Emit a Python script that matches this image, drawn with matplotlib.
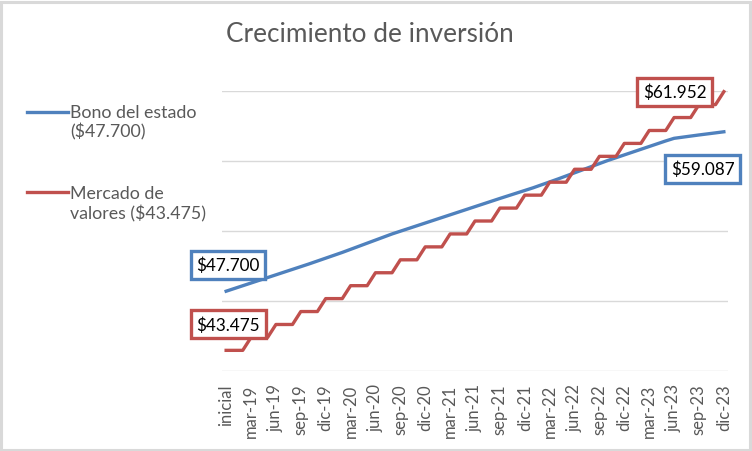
import matplotlib.pyplot as plt
from matplotlib.patches import Rectangle
from matplotlib.lines import Line2D

plt.rcParams['font.family'] = ['Lato', 'DejaVu Sans']

meses = ['ene', 'feb', 'mar', 'abr', 'may', 'jun', 'jul', 'ago', 'sep', 'oct', 'nov', 'dic']
anios = ['19', '20', '21', '22', '23']
categorias = ['inicial'] + [f'{m}-{a}' for a in anios for m in meses]

# valores (inicial + 60 meses)
bono = [47700, 47895, 48090, 48285, 48480, 48675, 48870, 49065, 49260, 49455,
        49650, 49855, 50060, 50265, 50470, 50690, 50910, 51130, 51350, 51570,
        51790, 51985, 52180, 52375, 52570, 52765, 52960, 53155, 53350, 53545,
        53740, 53935, 54130, 54325, 54515, 54705, 54895, 55085, 55295, 55505,
        55715, 55935, 56155, 56375, 56595, 56815, 57035, 57235, 57435, 57635,
        57835, 58035, 58235, 58435, 58620, 58700, 58780, 58860, 58935, 59010,
        59087]
mercado = [43475, 43475, 43475, 44399, 44399, 44399, 45323, 45323, 45323,
           46247, 46247, 46247, 47171, 47171, 47171, 48094, 48094, 48094,
           49018, 49018, 49018, 49942, 49942, 49942, 50866, 50866, 50866,
           51790, 51790, 51790, 52714, 52714, 52714, 53637, 53637, 53637,
           54561, 54561, 54561, 55485, 55485, 55485, 56409, 56409, 56409,
           57333, 57333, 57333, 58257, 58257, 58257, 59180, 59180, 59180,
           60104, 60104, 60104, 61028, 61028, 61028, 61952]

azul = '#4F81BD'
rojo = '#C0504D'
gris = '#595959'

W, H = 752, 452
fig = plt.figure(figsize=(W / 100, H / 100), dpi=100)
ax = fig.add_axes([222 / W, 80 / H, 506 / W, 280 / H])

x = list(range(len(categorias)))
ax.plot(x, bono, color=azul, lw=2.4, clip_on=False, zorder=3)
ax.plot(x, mercado, color=rojo, lw=2.4, clip_on=False, zorder=3)

ax.set_xlim(-0.5, len(categorias) - 0.5)
ax.set_ylim(42000, 62000)
ax.set_yticks(range(42000, 62001, 5000))
ax.yaxis.grid(True, color='#D9D9D9', lw=1)
ax.set_axisbelow(True)
ax.tick_params(axis='y', length=0, labelleft=False)
for s in ax.spines.values():
    s.set_visible(False)

ax.set_xticks(x[::3])
ax.set_xticklabels(categorias[::3], rotation=90)
ax.tick_params(axis='x', length=0, pad=9, labelsize=12, labelcolor=gris)


def etiqueta(i, serie, color, dx, dy):
    ax.annotate(f'${serie[i]:,}'.replace(',', '.'), (i, serie[i]),
                xytext=(dx, dy), textcoords='offset pixels',
                ha='center', va='center', fontsize=12.3, color='black', zorder=5,
                bbox=dict(boxstyle='square,pad=0.33', fc='white', ec=color, lw=2.4))


etiqueta(0, bono, azul, 2, 26)
etiqueta(0, mercado, rojo, 2, 26)
etiqueta(len(x) - 1, mercado, rojo, -49, 0)
etiqueta(len(x) - 1, bono, azul, -21, -37)

# titulo
fig.text(370 / W, 1 - 34 / H, 'Crecimiento de inversión', ha='center', va='center',
         fontsize=18.8, color=gris)

# leyenda
fig.add_artist(Line2D([27 / W, 68 / W], [1 - 112.7 / H] * 2, color=azul, lw=2.4))
fig.text(70 / W, 1 - 122.5 / H, 'Bono del estado\n($47.700)', va='center', ha='left',
         fontsize=12.8, color=gris)
fig.add_artist(Line2D([27 / W, 68 / W], [1 - 193.3 / H] * 2, color=rojo, lw=2.4))
fig.text(70 / W, 1 - 204 / H, 'Mercado de\nvalores ($43.475)', va='center', ha='left',
         fontsize=12.8, color=gris)

# borde del area del grafico
fig.add_artist(Rectangle((1.5 / W, 1.5 / H), 748 / W, 448 / H, transform=fig.transFigure,
                         fill=False, ec='#D9D9D9', lw=2.2))

fig.savefig('out.png', dpi=100)
